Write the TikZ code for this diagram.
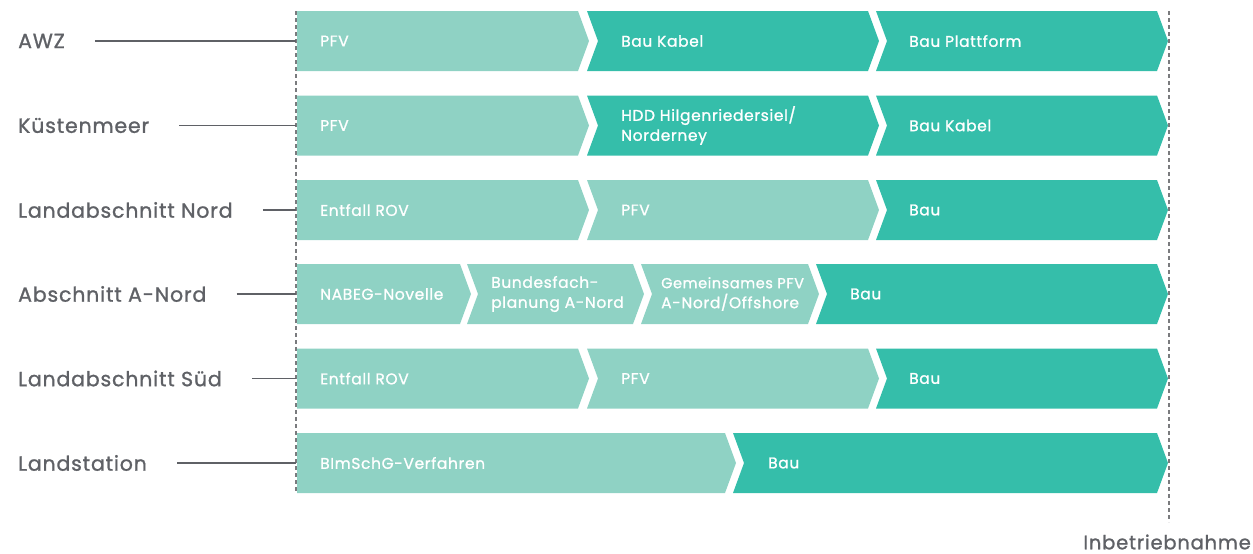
\documentclass[tikz,border=0pt]{standalone}
\usepackage{fontspec}
\setmainfont{Poppins}[FakeBold=1.1,LetterSpace=4]
\definecolor{lightteal}{HTML}{8FD2C4}
\definecolor{darkteal}{HTML}{35BEAA}
\definecolor{labelgray}{HTML}{5F6166}
\definecolor{dashgray}{HTML}{7A7B7E}
% #1 name, #2 left, #3 right(top corner), #4 top, #5 notch factor (0/1), #6 fill colour, #7 text x, #8 text
\newcommand\chevseg[8]{%
  \fill[#6] (#2,#4) -- (#3,#4) -- ({#3+11},{#4+30}) -- (#3,{#4+60}) -- (#2,{#4+60}) -- ({#2+11*#5},{#4+30}) -- cycle;
  \node[chevtext] (#1) at (#7,{#4+30}) {#8};
}
\begin{document}
\begin{tikzpicture}[x=1pt,y=-1pt,
  chevtext/.style={anchor=west,text=white,font=\fontsize{15.5}{20}\selectfont,align=left,inner sep=0pt},
  rowlabel/.style={anchor=west,text=labelgray,font=\fontsize{20.5}{22}\selectfont,inner sep=0pt},
  leader/.style={draw=labelgray,line width=1.1pt},
  timeline/.style={draw=dashgray,line width=1.4pt,dash pattern=on 4pt off 3pt}]
\useasboundingbox (0,0) rectangle (1253,554);
% dashed lines
\coordinate (startTop) at (296,11);
\coordinate (startBot) at (296,493);
\coordinate (endTop) at (1169,11);
\coordinate (endBot) at (1169,522);
% row 1 AWZ (top 11)
\chevseg{r1a}{297}{578}{11}{0}{lightteal}{320}{PFV}
\chevseg{r1b}{587}{868}{11}{1}{darkteal}{621}{Bau Kabel}
\chevseg{r1c}{876}{1157}{11}{1}{darkteal}{909}{Bau Plattform}
% row 2 Kuestenmeer (top 95.5)
\chevseg{r2a}{297}{578}{95.5}{0}{lightteal}{320}{PFV}
\chevseg{r2b}{587}{868}{95.5}{1}{darkteal}{621}{HDD Hilgenriedersiel/\\Norderney}
\chevseg{r2c}{876}{1157}{95.5}{1}{darkteal}{909}{Bau Kabel}
% row 3 Landabschnitt Nord (top 180)
\chevseg{r3a}{297}{578}{180}{0}{lightteal}{320}{Entfall ROV}
\chevseg{r3b}{587}{868}{180}{1}{lightteal}{621}{PFV}
\chevseg{r3c}{876}{1157}{180}{1}{darkteal}{909}{Bau}
% row 4 Abschnitt A-Nord (top 264)
\chevseg{r4a}{297}{460}{264}{0}{lightteal}{320}{NABEG-Novelle}
\chevseg{r4b}{467}{633}{264}{1}{lightteal}{491}{Bundesfach-\\planung A-Nord}
\chevseg{r4c}{641}{808}{264}{1}{lightteal}{661}{\fontsize{14.5}{20}\selectfont Gemeinsames PFV\\A-Nord/Offshore}
\chevseg{r4d}{816}{1157}{264}{1}{darkteal}{850}{Bau}
% row 5 Landabschnitt Sued (top 348.5)
\chevseg{r5a}{297}{578}{348.5}{0}{lightteal}{320}{Entfall ROV}
\chevseg{r5b}{587}{868}{348.5}{1}{lightteal}{621}{PFV}
\chevseg{r5c}{876}{1157}{348.5}{1}{darkteal}{909}{Bau}
% row 6 Landstation (top 433)
\chevseg{r6a}{297}{725}{433}{0}{lightteal}{320}{BImSchG-Verfahren}
\chevseg{r6b}{733}{1157}{433}{1}{darkteal}{768}{Bau}
% timelines
\draw[timeline] (startTop) -- (startBot);
\draw[timeline] (endTop) -- (endBot);
\node[anchor=east,text=labelgray,font=\fontsize{19.5}{22}\selectfont,inner sep=0pt] (inbetrieb) at (1251,542) {Inbetriebnahme};
% row labels
\node[rowlabel] (l1) at (18,41) {AWZ};
\node[rowlabel] (l2) at (18,125.5) {Küstenmeer};
\node[rowlabel] (l3) at (18,210) {Landabschnitt Nord};
\node[rowlabel] (l4) at (18,294) {Abschnitt A-Nord};
\node[rowlabel] (l5) at (18,378.5) {Landabschnitt Süd};
\node[rowlabel] (l6) at (18,463) {Landstation};
\coordinate (e1) at (296,41);
\coordinate (e2) at (296,125.5);
\coordinate (e3) at (296,210);
\coordinate (e4) at (296,294);
\coordinate (e5) at (296,378.5);
\coordinate (e6) at (296,463);
\draw[leader] ([xshift=30pt]l1.east) -- (e1);
\draw[leader] ([xshift=30pt]l2.east) -- (e2);
\draw[leader] ([xshift=30pt]l3.east) -- (e3);
\draw[leader] ([xshift=30pt]l4.east) -- (e4);
\draw[leader] ([xshift=30pt]l5.east) -- (e5);
\draw[leader] ([xshift=30pt]l6.east) -- (e6);
\end{tikzpicture}
\end{document}
